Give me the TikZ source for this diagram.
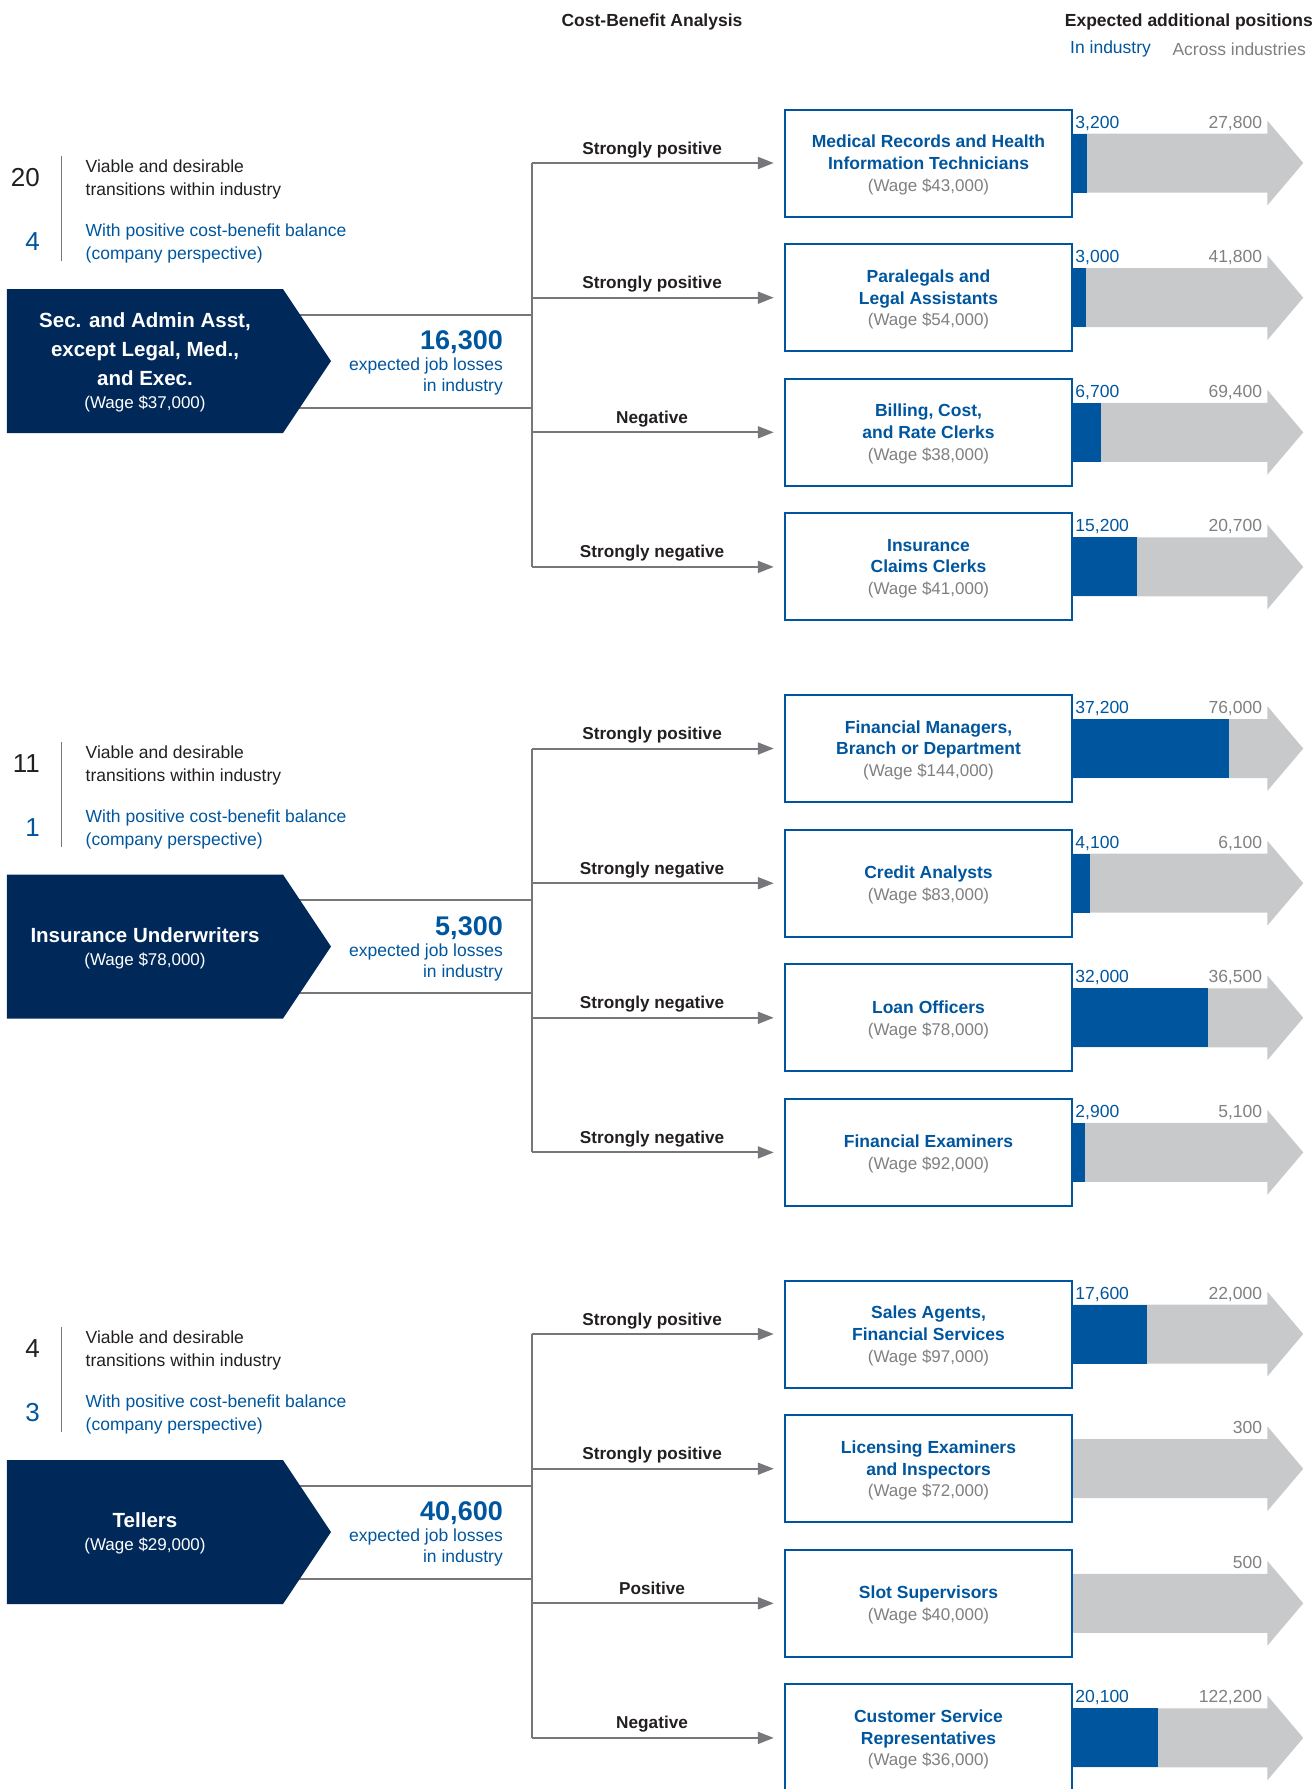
\documentclass[tikz,border=0pt]{standalone}
\usepackage{fontspec}
\setmainfont{Liberation Sans}
\usepackage{tikz}
\usetikzlibrary{arrows.meta, positioning, calc, backgrounds}
\definecolor{navy}{RGB}{0, 41, 90}
\definecolor{mckblue}{RGB}{0, 86, 158}
\definecolor{bargray}{RGB}{200, 201, 203}
\definecolor{linegray}{RGB}{118, 119, 122}
\definecolor{wagegray}{RGB}{128, 128, 130}
\definecolor{darktext}{RGB}{35, 31, 32}

\newcommand{\wage}[1]{{\fontsize{17}{20}\mdseries\selectfont(Wage \$#1)}}
\newcommand{\jobwage}[1]{{\color{wagegray}\wage{#1}}}
% gray arrow with the in-industry share in blue
\newcommand{\posbar}[4]{%
  \fill[bargray] ($(#1.east)+(0,-29.5)$) -- ++(194,0) -- ++(0,-13) -- ++(36,42.5) -- ++(-36,42.5) -- ++(0,-13) -- ++(-194,0) -- cycle;
  \fill[mckblue] ($(#1.east)+(0,-29.5)$) rectangle ++(#2,59);
  \node[inlabel] at ($(#1.east)+(2,-35)$) {#3};
  \node[acrosslabel] at ($(#1.east)+(189,-35)$) {#4};
}

\tikzset{
  job/.style={draw=mckblue, line width=2pt, fill=white, minimum width=287.5pt, minimum height=107pt,
    align=center, text=mckblue, font=\fontsize{17.5}{21.7}\selectfont\bfseries, text depth=-2.4pt},
  link/.style={draw=linegray, line width=2pt},
  branch/.style={link, -{Triangle[length=16pt,width=12pt]}, shorten >=10pt},
  rate/.style={pos=0.478, anchor=base, yshift=9pt, text=darktext, font=\fontsize{17.2}{20}\selectfont\bfseries},
  inlabel/.style={anchor=base west, inner sep=0, text=mckblue},
  acrosslabel/.style={anchor=base east, inner sep=0, text=wagegray},
  source/.style={align=center, text=white, font=\fontsize{20.5}{29}\selectfont\bfseries},
  losses/.style={anchor=east, align=right, text=mckblue, inner sep=0, font=\fontsize{17.5}{21}\selectfont},
  count/.style={anchor=east, inner sep=0, text=darktext, font=\fontsize{26}{30}\selectfont},
  note/.style={anchor=west, align=left, inner sep=0, text=darktext, font=\fontsize{17.5}{22.8}\selectfont},
  divider/.style={draw=linegray, line width=1.5pt},
  chevron/.style={fill=navy},
  head/.style={inner sep=0, text=darktext, font=\fontsize{17.5}{21}\selectfont\bfseries}
}

\begin{document}
\begin{tikzpicture}[x=1pt, y=-1pt, font=\fontsize{17.5}{20.3}\selectfont]
  \useasboundingbox (0,0) rectangle (1314,1789);

  % headers
  \node[head] (cba) at (652,21.8) {Cost-Benefit Analysis};
  \node[head, anchor=east] (expected) at (1313,21.8) {Expected additional positions};
  \node[inlabel, anchor=west] (inind) at (1070,49.3) {In industry};
  \node[acrosslabel, anchor=east] (across) at (1306,49.3) {Across industries};

  % Secretaries and administrative assistants
  \begin{scope}[name prefix=adm-]
    \node[count] (nall) at (40,178) {20};
    \node[count, text=mckblue] (npos) at (40,242) {4};
    \draw[divider] (61.6,156) -- (61.6,261);
    \node[note] (viable) at (85.5,179.8) {Viable and desirable\\transitions within industry};
    \node[note, text=mckblue] (balance) at (85.5,243.8) {With positive cost-benefit balance\\(company perspective)};
    \fill[chevron] (6.8,289) -- (283,289) -- (331,361) -- (283,433) -- (6.8,433) -- cycle;
    \node[source] (src) at (145,362.5) {Sec. and Admin Asst,\\except Legal, Med.,\\and Exec.\\[-6pt]\wage{37,000}};
    \node[losses] (loss) at (503,363) {{\fontsize{27}{27}\selectfont\bfseries 16,300}\\expected job losses\\in industry};
    \coordinate (hub) at (531.5,361);
    \coordinate (up) at (531.5,314.5);
    \coordinate (dn) at (531.5,407.5);
    \begin{scope}[on background layer]
      \draw[link] (up -| src) -- (up) (dn -| src) -- (dn);
    \end{scope}
    \node[job] (t1) at (928.5,163) {Medical Records and Health\\Information Technicians\\\jobwage{43,000}};
    \node[job] (t2) at (928.5,297.7) {Paralegals and\\Legal Assistants\\\jobwage{54,000}};
    \node[job] (t3) at (928.5,432.3) {Billing, Cost,\\and Rate Clerks\\\jobwage{38,000}};
    \node[job] (t4) at (928.5,566.9) {Insurance\\Claims Clerks\\\jobwage{41,000}};
    \draw[link] (t1.west -| hub) -- (t4.west -| hub);
    \draw[branch] (t1.west -| hub) -- (t1.west) node[rate] {Strongly positive};
    \draw[branch] (t2.west -| hub) -- (t2.west) node[rate] {Strongly positive};
    \draw[branch] (t3.west -| hub) -- (t3.west) node[rate] {Negative};
    \draw[branch] (t4.west -| hub) -- (t4.west) node[rate] {Strongly negative};
    \posbar{t1}{13.4}{3,200}{27,800}
    \posbar{t2}{12.6}{3,000}{41,800}
    \posbar{t3}{28.1}{6,700}{69,400}
    \posbar{t4}{63.8}{15,200}{20,700}
  \end{scope}

  % Insurance underwriters
  \begin{scope}[yshift=-585.5pt, name prefix=ins-]
    \node[count] (nall) at (40,178) {11};
    \node[count, text=mckblue] (npos) at (40,242) {1};
    \draw[divider] (61.6,156) -- (61.6,261);
    \node[note] (viable) at (85.5,179.8) {Viable and desirable\\transitions within industry};
    \node[note, text=mckblue] (balance) at (85.5,243.8) {With positive cost-benefit balance\\(company perspective)};
    \fill[chevron] (6.8,289) -- (283,289) -- (331,361) -- (283,433) -- (6.8,433) -- cycle;
    \node[source] (src) at (145,362.5) {Insurance Underwriters\\[-6pt]\wage{78,000}};
    \node[losses] (loss) at (503,363) {{\fontsize{27}{27}\selectfont\bfseries 5,300}\\expected job losses\\in industry};
    \coordinate (hub) at (531.5,361);
    \coordinate (up) at (531.5,314.5);
    \coordinate (dn) at (531.5,407.5);
    \begin{scope}[on background layer]
      \draw[link] (up -| src) -- (up) (dn -| src) -- (dn);
    \end{scope}
    \node[job] (t1) at (928.5,163) {Financial Managers,\\Branch or Department\\\jobwage{144,000}};
    \node[job] (t2) at (928.5,297.7) {Credit Analysts\\\jobwage{83,000}};
    \node[job] (t3) at (928.5,432.3) {Loan Officers\\\jobwage{78,000}};
    \node[job] (t4) at (928.5,566.9) {Financial Examiners\\\jobwage{92,000}};
    \draw[link] (t1.west -| hub) -- (t4.west -| hub);
    \draw[branch] (t1.west -| hub) -- (t1.west) node[rate] {Strongly positive};
    \draw[branch] (t2.west -| hub) -- (t2.west) node[rate] {Strongly negative};
    \draw[branch] (t3.west -| hub) -- (t3.west) node[rate] {Strongly negative};
    \draw[branch] (t4.west -| hub) -- (t4.west) node[rate] {Strongly negative};
    \posbar{t1}{156.2}{37,200}{76,000}
    \posbar{t2}{17.2}{4,100}{6,100}
    \posbar{t3}{134.4}{32,000}{36,500}
    \posbar{t4}{12.2}{2,900}{5,100}
  \end{scope}

  % Tellers
  \begin{scope}[yshift=-1171pt, name prefix=tel-]
    \node[count] (nall) at (40,178) {4};
    \node[count, text=mckblue] (npos) at (40,242) {3};
    \draw[divider] (61.6,156) -- (61.6,261);
    \node[note] (viable) at (85.5,179.8) {Viable and desirable\\transitions within industry};
    \node[note, text=mckblue] (balance) at (85.5,243.8) {With positive cost-benefit balance\\(company perspective)};
    \fill[chevron] (6.8,289) -- (283,289) -- (331,361) -- (283,433) -- (6.8,433) -- cycle;
    \node[source] (src) at (145,362.5) {Tellers\\[-6pt]\wage{29,000}};
    \node[losses] (loss) at (503,363) {{\fontsize{27}{27}\selectfont\bfseries 40,600}\\expected job losses\\in industry};
    \coordinate (hub) at (531.5,361);
    \coordinate (up) at (531.5,314.5);
    \coordinate (dn) at (531.5,407.5);
    \begin{scope}[on background layer]
      \draw[link] (up -| src) -- (up) (dn -| src) -- (dn);
    \end{scope}
    \node[job] (t1) at (928.5,163) {Sales Agents,\\Financial Services\\\jobwage{97,000}};
    \node[job] (t2) at (928.5,297.7) {Licensing Examiners\\and Inspectors\\\jobwage{72,000}};
    \node[job] (t3) at (928.5,432.3) {Slot Supervisors\\\jobwage{40,000}};
    \node[job] (t4) at (928.5,566.9) {Customer Service\\Representatives\\\jobwage{36,000}};
    \draw[link] (t1.west -| hub) -- (t4.west -| hub);
    \draw[branch] (t1.west -| hub) -- (t1.west) node[rate] {Strongly positive};
    \draw[branch] (t2.west -| hub) -- (t2.west) node[rate] {Strongly positive};
    \draw[branch] (t3.west -| hub) -- (t3.west) node[rate] {Positive};
    \draw[branch] (t4.west -| hub) -- (t4.west) node[rate] {Negative};
    \posbar{t1}{73.9}{17,600}{22,000}
    \posbar{t2}{0}{}{300}
    \posbar{t3}{0}{}{500}
    \posbar{t4}{84.4}{20,100}{122,200}
  \end{scope}
\end{tikzpicture}
\end{document}
